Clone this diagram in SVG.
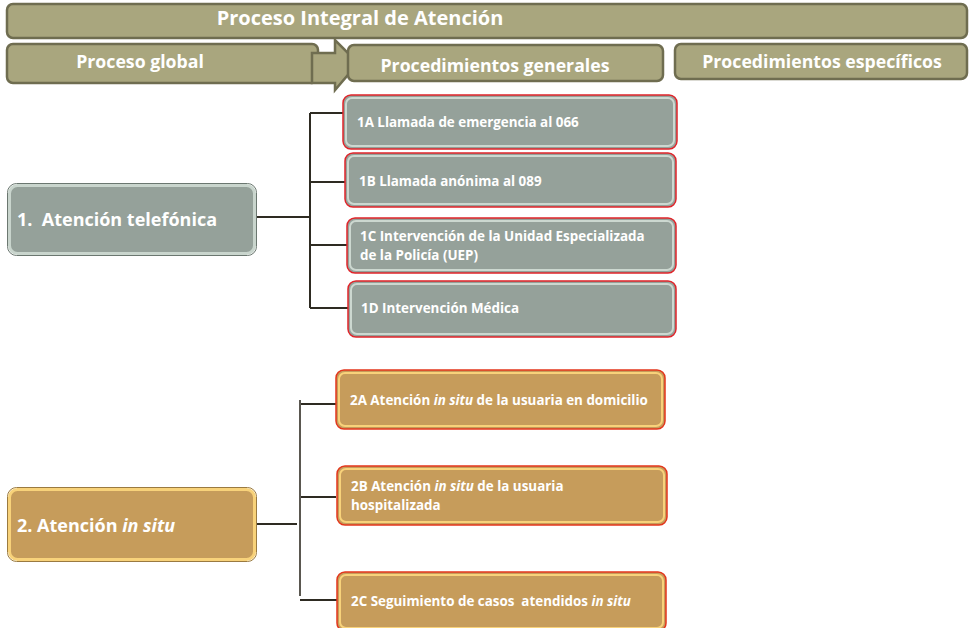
<svg xmlns="http://www.w3.org/2000/svg" width="972" height="628" viewBox="0 0 972 628">
<style>
text{font-family:"Open Sans","Noto Sans","Liberation Sans",sans-serif;font-weight:bold;fill:#ffffff;white-space:pre}
.hdr{fill:#a9a67e;stroke:#6f6d50;stroke-width:2.5}
.g{fill:#95a19a;stroke:#c9d5cd;stroke-width:3}
.go{fill:none;stroke:#6b7770;stroke-width:1}
.gc{fill:#95a19a;stroke:#e0242a;stroke-width:1.5}
.gci{fill:none;stroke:#ccd8d0;stroke-width:2}
.o{fill:#c69c5b;stroke:#f8d27a;stroke-width:3}
.oo{fill:none;stroke:#9a7a40;stroke-width:1}
.oc{fill:#c69c5b;stroke:#e3361c;stroke-width:1.5}
.oci{fill:none;stroke:#f8d27a;stroke-width:2}
.ln{stroke:#2e2b22;stroke-width:2;fill:none}
.ln2{stroke:#5a5750;stroke-width:2;fill:none}
.t1{font-size:13.4px}
.t0{font-size:18px}
.th{font-size:17.7px}
</style>
<rect width="972" height="628" fill="#ffffff"/>
<g id="header">
<rect class="hdr" x="7" y="4" width="960" height="34" rx="6"/>
<text x="360" y="25" font-size="20" text-anchor="middle">Proceso Integral de Atención</text>
</g>
<g id="proceso-global">
<rect class="hdr" x="7" y="44" width="311" height="39" rx="6"/>
<text class="th" x="140" y="68" text-anchor="middle" font-size="18">Proceso global</text>
</g>
<g id="arrow">
<path class="hdr" d="M312,53 L335,53 L335,40 L358,63 L335,90 L335,83 L312,83 Z"/>
</g>
<g id="procedimientos-generales">
<rect class="hdr" x="348" y="45" width="315" height="36" rx="6"/>
<text class="th" x="495" y="72" text-anchor="middle">Procedimientos generales</text>
</g>
<g id="procedimientos-especificos">
<rect class="hdr" x="675" y="44" width="292" height="35" rx="6"/>
<text class="th" x="822" y="68" text-anchor="middle">Procedimientos específicos</text>
</g>
<g id="connectors">
<path class="ln" d="M256,217 H310 M310,113 V308 M310,113 H344 M310,182 H346 M310,245 H348 M310,308 H349"/>
<path class="ln" d="M256,524 H297 M300,404 H336 M300,497 H336 M300,600 H337"/>
<path class="ln2" d="M300,400 V596"/>
</g>
<g id="n1">
<rect class="go" x="7.5" y="183.5" width="249" height="72" rx="9"/>
<rect class="g" x="9.5" y="185.5" width="245" height="68" rx="8"/>
<text class="t0" x="17" y="226">1.  Atención telefónica</text>
</g>
<g id="n1a">
<rect class="gc" x="343" y="95" width="334" height="54" rx="8"/>
<rect class="gci" x="346" y="98" width="328" height="48" rx="6"/>
<text class="t1" x="357" y="127">1A Llamada de emergencia al 066</text>
</g>
<g id="n1b">
<rect class="gc" x="345" y="153" width="331" height="54" rx="8"/>
<rect class="gci" x="348" y="156" width="325" height="48" rx="6"/>
<text class="t1" x="359" y="186">1B Llamada anónima al 089</text>
</g>
<g id="n1c">
<rect class="gc" x="347" y="218" width="329" height="55" rx="8"/>
<rect class="gci" x="350" y="221" width="323" height="49" rx="6"/>
<text class="t1" x="360" y="241">1C Intervención de la Unidad Especializada</text>
<text class="t1" x="360" y="260">de la Policía (UEP)</text>
</g>
<g id="n1d">
<rect class="gc" x="348" y="281" width="328" height="56" rx="8"/>
<rect class="gci" x="351" y="284" width="322" height="50" rx="6"/>
<text class="t1" x="361" y="313">1D Intervención Médica</text>
</g>
<g id="n2">
<rect class="oo" x="7.5" y="487.5" width="249" height="74" rx="9"/>
<rect class="o" x="9.5" y="489.5" width="245" height="70" rx="8"/>
<text class="t0" x="17" y="532">2. Atención <tspan font-style="italic">in situ</tspan></text>
</g>
<g id="n2a">
<rect class="oc" x="336" y="370" width="329" height="59" rx="8"/>
<rect class="oci" x="339" y="373" width="323" height="53" rx="6"/>
<text class="t1" x="350" y="405">2A Atención <tspan font-style="italic">in situ</tspan> de la usuaria en domicilio</text>
</g>
<g id="n2b">
<rect class="oc" x="337" y="466" width="330" height="59" rx="8"/>
<rect class="oci" x="340" y="469" width="324" height="53" rx="6"/>
<text class="t1" x="351" y="491">2B Atención <tspan font-style="italic">in situ</tspan> de la usuaria</text>
<text class="t1" x="351" y="510">hospitalizada</text>
</g>
<g id="n2c">
<rect class="oc" x="337" y="572" width="329" height="59" rx="8"/>
<rect class="oci" x="340" y="575" width="323" height="53" rx="6"/>
<text class="t1" x="351" y="606">2C Seguimiento de casos  atendidos <tspan font-style="italic">in situ</tspan></text>
</g>
</svg>
